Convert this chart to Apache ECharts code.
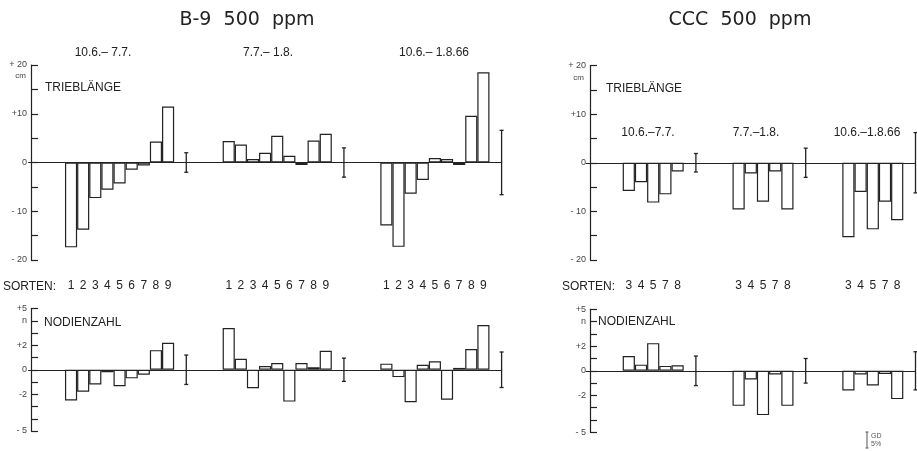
<!DOCTYPE html>
<html><head><meta charset="utf-8">
<script src="https://cdn.jsdelivr.net/npm/echarts@6/dist/echarts.min.js"></script>
<style>html,body{margin:0;padding:0;background:#fff}#c{width:917px;height:451px}</style>
</head><body><div id="c"></div>
<script>
// ---------- data ----------
const sortsB9 = ['1','2','3','4','5','6','7','8','9'];
const sortsCCC = ['3','4','5','7','8'];
const periodsB9 = ['10.6.– 7.7.', '7.7.– 1.8.', '10.6.– 1.8.66'];
const periodsCCC = ['10.6.–7.7.', '7.7.–1.8.', '10.6.–1.8.66'];

// B-9 500 ppm, Trieblänge (cm)
const b9LenP1 = [-17.4, -13.8, -7.3, -5.6, -4.3, -1.5, -0.6, 4.3, 11.5];
const b9LenP2 = [4.4, 3.7, 0.7, 2.0, 5.5, 1.4, -0.5, 4.5, 5.9];
const b9LenP3 = [-12.9, -17.3, -6.4, -3.6, 0.9, 0.7, -0.5, 9.6, 18.5];
const b9LenGD = [2.0, 3.0, 6.6];
// B-9 500 ppm, Nodienzahl (n)
const b9NodP1 = [-2.5, -1.8, -1.2, -0.2, -1.35, -0.7, -0.4, 1.6, 2.2];
const b9NodP2 = [3.4, 0.9, -1.5, 0.3, 0.55, -2.6, 0.55, 0.2, 1.55];
const b9NodP3 = [0.5, -0.6, -2.65, 0.4, 0.7, -2.45, 0.15, 1.7, 3.65];
const b9NodGD = [1.2, 0.95, 1.45];
// CCC 500 ppm, Trieblänge (cm)
const cccLenP1 = [-5.8, -4.0, -8.2, -6.5, -1.8];
const cccLenP2 = [-9.6, -2.2, -8.0, -1.8, -9.6];
const cccLenP3 = [-15.3, -6.0, -13.7, -8.0, -11.8];
const cccLenGD = [1.9, 3.0, 6.2];
// CCC 500 ppm, Nodienzahl (n)
const cccNodP1 = [1.2, 0.5, 2.25, 0.4, 0.45];
const cccNodP2 = [-2.85, -0.7, -3.6, -0.3, -2.85];
const cccNodP3 = [-1.6, -0.3, -1.2, -0.25, -2.3];
const cccNodGD = [1.2, 1.0, 1.55];

// tick labels
const lenTicks = [20, 10, 0, -10, -20];
const lenTickText = ['+ 20', '+10', '0', '- 10', '- 20'];
const nodTicks = [5, 4, 2, 0, -2, -5];
const nodTickText = ['+5', 'n', '+2', '0', '-2', '- 5'];

// ---------- helpers ----------
function buildAxis(sorts, nGroups, spacer) {
  const cats = ['', '', ''];
  const starts = [];
  for (let g = 0; g < nGroups; g++) {
    starts.push(cats.length);
    sorts.forEach(s => cats.push(s));
    const pad = g < nGroups - 1 ? spacer : 1;
    for (let k = 0; k < pad; k++) cats.push('');
  }
  return { cats, starts, n: sorts.length };
}
function barData(lay, groups) {
  const arr = lay.cats.map(() => null);
  groups.forEach((vals, g) => vals.forEach((v, i) => { arr[lay.starts[g] + i] = v; }));
  return arr;
}
function errData(lay, gds) {
  return gds.map((h, g) => [lay.starts[g] + lay.n, h]);
}
function errRender(params, api) {
  const idx = api.value(0), h = api.value(1);
  const bw = api.size([1, 0])[0];
  const x = api.coord([idx, 0])[0] + bw / 2;
  const yt = api.coord([idx, h])[1], yb = api.coord([idx, -h])[1];
  const st = { stroke: '#222', lineWidth: 1.3 };
  return { type: 'group', children: [
    { type: 'line', shape: { x1: x, y1: yt, x2: x, y2: yb }, style: st },
    { type: 'line', shape: { x1: x - 2, y1: yt, x2: x + 2, y2: yt }, style: st },
    { type: 'line', shape: { x1: x - 2, y1: yb, x2: x + 2, y2: yb }, style: st }
  ]};
}
function tickFmt(ticks, texts) {
  return v => { const i = ticks.indexOf(v); return i >= 0 ? texts[i] : ''; };
}
function yAx(grid, min, max, interval, ticks, texts, offset) {
  return {
    type: 'value', gridIndex: grid, min, max, interval, offset,
    axisLine: { show: true, lineStyle: { color: '#222', width: 1.2 } },
    axisTick: { show: true, inside: true, length: 7, lineStyle: { color: '#222', width: 1.2 } },
    axisLabel: { fontSize: 9, color: '#444', margin: 4, fontFamily: 'Liberation Sans',
      formatter: tickFmt(ticks, texts), showMinLabel: true, showMaxLabel: true, hideOverlap: false },
    splitLine: { show: false }
  };
}
function xLine(grid, cats) {
  return {
    type: 'category', gridIndex: grid, data: cats,
    axisLine: { show: true, onZero: true, lineStyle: { color: '#222', width: 1.2 } },
    axisTick: { show: false }, axisLabel: { show: false }, splitLine: { show: false }
  };
}
function xLabels(grid, cats) {
  return {
    type: 'category', gridIndex: grid, data: cats, position: 'bottom',
    axisLine: { show: false, onZero: false }, axisTick: { show: false },
    axisLabel: { interval: 0, fontSize: 12, color: '#222', margin: 20, fontFamily: 'Liberation Sans' },
    splitLine: { show: false }
  };
}
const barStyle = { color: 'rgba(0,0,0,0)', borderColor: '#222', borderWidth: 1.2 };
function barSeries(xi, yi, data) {
  return { type: 'bar', xAxisIndex: xi, yAxisIndex: yi, data, barCategoryGap: '0%',
    itemStyle: barStyle, silent: true, animation: false };
}
function errSeries(xi, yi, data) {
  return { type: 'custom', xAxisIndex: xi, yAxisIndex: yi, data, renderItem: errRender,
    encode: { x: 0, y: 1 }, silent: true, animation: false };
}

const layB9 = buildAxis(sortsB9, 3, 4);
const layCCC = buildAxis(sortsCCC, 3, 4);

// ---------- graphic texts ----------
const txt = (text, x, y, size, align, family, extra) => ({
  type: 'text', x, y, silent: true,
  style: Object.assign({ text, fontSize: size, fontFamily: family || 'Liberation Sans', fill: '#222',
    align: align || 'center', verticalAlign: 'middle' }, extra || {})
});
const periodXB9 = [103, 268, 434];
const periodXCCC = [648, 756, 867];
const graphics = [
  txt('B-9  500  ppm', 247, 20, 19, 'center', 'DejaVu Sans'),
  txt('CCC  500  ppm', 740, 20, 19, 'center', 'DejaVu Sans'),
  ...periodsB9.map((p, i) => txt(p, periodXB9[i], 53, 12)),
  ...periodsCCC.map((p, i) => txt(p, periodXCCC[i], 133, 12)),
  txt('TRIEBLÄNGE', 45, 88, 12, 'left'),
  txt('TRIEBLÄNGE', 606, 89, 12, 'left'),
  txt('NODIENZAHL', 44, 323, 12, 'left'),
  txt('NODIENZAHL', 598, 322, 12, 'left'),
  txt('SORTEN:', 3, 287, 12, 'left'),
  txt('SORTEN:', 562, 287, 12, 'left'),
  txt('cm', 26, 76, 8, 'right', null, { fill: '#444' }),
  txt('cm', 584, 78, 8, 'right', null, { fill: '#444' }),
  { type: 'group', silent: true, children: [
    { type: 'line', shape: { x1: 867, y1: 432, x2: 867, y2: 448 }, style: { stroke: '#555', lineWidth: 1 } },
    { type: 'line', shape: { x1: 865.5, y1: 432, x2: 868.5, y2: 432 }, style: { stroke: '#555', lineWidth: 1 } },
    { type: 'line', shape: { x1: 865.5, y1: 448, x2: 868.5, y2: 448 }, style: { stroke: '#555', lineWidth: 1 } }
  ]},
  txt('GD', 871, 436, 7, 'left', null, { fill: '#555' }),
  txt('5%', 871, 444, 7, 'left', null, { fill: '#555' })
];

const option = {
  backgroundColor: '#fff',
  animation: false,
  grid: [
    { left: 28.6, top: 65, width: 473, height: 195, outerBoundsMode: 'none' },
    { left: 28.6, top: 308.5, width: 473, height: 122.5, outerBoundsMode: 'none' },
    { left: 586.1, top: 65.5, width: 329.4, height: 194.5, outerBoundsMode: 'none' },
    { left: 586.1, top: 309.3, width: 329.4, height: 123, outerBoundsMode: 'none' }
  ],
  xAxis: [
    xLine(0, layB9.cats), xLabels(0, layB9.cats),
    xLine(1, layB9.cats),
    xLine(2, layCCC.cats), xLabels(2, layCCC.cats),
    xLine(3, layCCC.cats)
  ],
  yAxis: [
    yAx(0, -20, 20, 5, lenTicks, lenTickText, -2.4),
    yAx(1, -5, 5, 1, nodTicks, nodTickText, -2.4),
    yAx(2, -20, 20, 5, lenTicks, lenTickText, -3.9),
    yAx(3, -5, 5, 1, nodTicks, nodTickText, -3.9)
  ],
  series: [
    barSeries(0, 0, barData(layB9, [b9LenP1, b9LenP2, b9LenP3])),
    errSeries(0, 0, errData(layB9, b9LenGD)),
    barSeries(2, 1, barData(layB9, [b9NodP1, b9NodP2, b9NodP3])),
    errSeries(2, 1, errData(layB9, b9NodGD)),
    barSeries(3, 2, barData(layCCC, [cccLenP1, cccLenP2, cccLenP3])),
    errSeries(3, 2, errData(layCCC, cccLenGD)),
    barSeries(5, 3, barData(layCCC, [cccNodP1, cccNodP2, cccNodP3])),
    errSeries(5, 3, errData(layCCC, cccNodGD))
  ],
  graphic: graphics
};
const chart = echarts.init(document.getElementById('c'), null, { renderer: 'canvas' });
chart.setOption(option);
</script>
</body></html>
